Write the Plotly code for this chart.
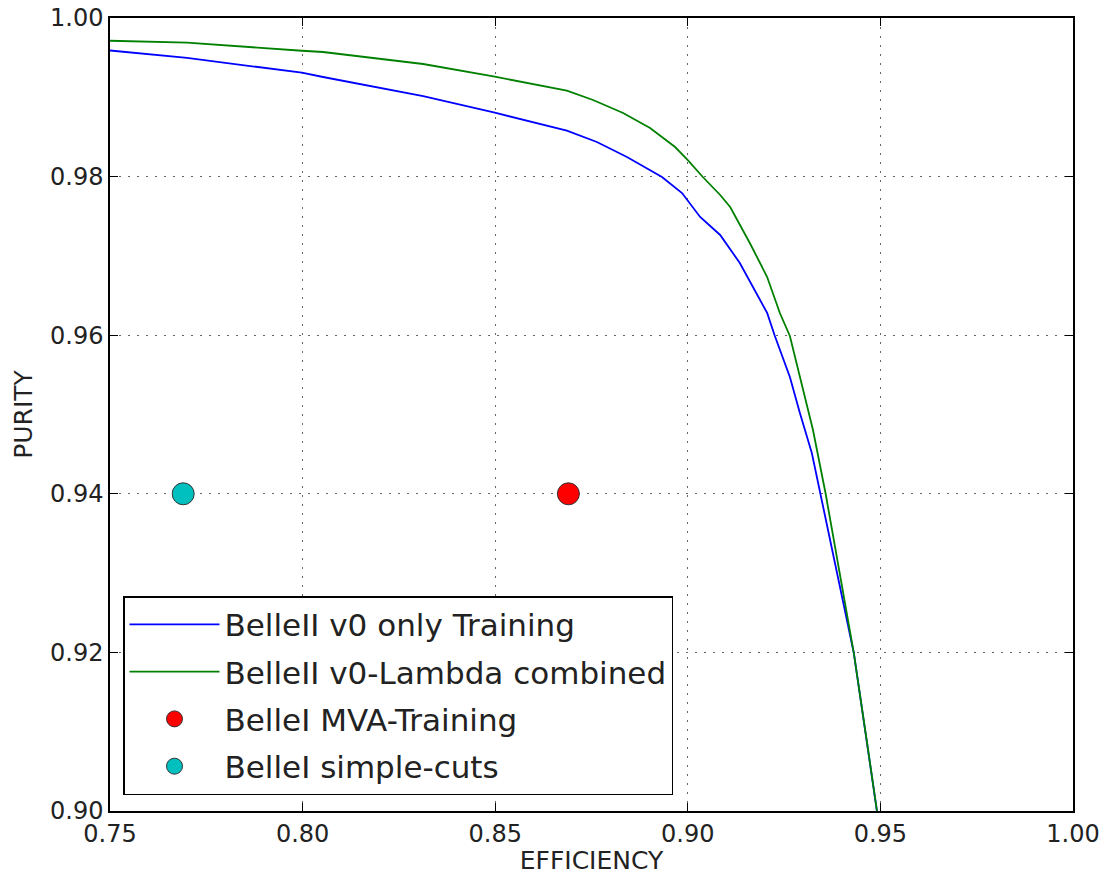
import plotly.graph_objects as go

# BelleII v0 only Training (blue)
blue_eff = [0.750, 0.770, 0.7998, 0.8053, 0.8313, 0.8499, 0.8686, 0.8764, 0.8842, 0.8910,
            0.8933, 0.8985, 0.9032, 0.9084, 0.9135, 0.9206, 0.9226, 0.9265, 0.9291,
            0.9322, 0.9345, 0.9382, 0.9431, 0.9467, 0.9491]
blue_pur = [0.9959, 0.99496, 0.99311, 0.99256, 0.99016, 0.98806, 0.98579, 0.98436, 0.98247, 0.98058,
            0.97995, 0.97793, 0.97491, 0.97264, 0.96911, 0.96281, 0.95990, 0.95473, 0.95019,
            0.94514, 0.93997, 0.93127, 0.91992, 0.90807, 0.9000]

# BelleII v0-Lambda combined (green)
green_eff = [0.750, 0.770, 0.7998, 0.8053, 0.8313, 0.8499, 0.8686, 0.8754, 0.8832, 0.8902,
             0.8967, 0.9000, 0.9039, 0.9084, 0.9110, 0.9161, 0.9206, 0.9239, 0.9265, 0.9299,
             0.9325, 0.9358, 0.9390, 0.9431, 0.9467, 0.9491]
green_pur = [0.99713, 0.99689, 0.99587, 0.99571, 0.99420, 0.99260, 0.99083, 0.98966, 0.98802, 0.98613,
             0.98373, 0.98209, 0.97995, 0.97768, 0.97617, 0.97163, 0.96734, 0.96280, 0.95990, 0.95309,
             0.94804, 0.93997, 0.93127, 0.91992, 0.90807, 0.9000]

# BelleI points
mva_eff = [0.869]
mva_pur = [0.940]
cuts_eff = [0.769]
cuts_pur = [0.940]

x_ticks = [0.75, 0.80, 0.85, 0.90, 0.95, 1.00]
y_ticks = [0.90, 0.92, 0.94, 0.96, 0.98, 1.00]

FONT = "DejaVu Sans"

fig = go.Figure()
fig.add_trace(go.Scatter(x=blue_eff, y=blue_pur, mode="lines",
                         line=dict(color="#0000ff", width=1.8),
                         name="BelleII v0 only Training", legendgroup="a"))
fig.add_trace(go.Scatter(x=green_eff, y=green_pur, mode="lines",
                         line=dict(color="#008000", width=1.8),
                         name="BelleII v0-Lambda combined", legendgroup="b"))
fig.add_trace(go.Scatter(x=mva_eff, y=mva_pur, mode="markers",
                         marker=dict(color="#ff0000", size=22,
                                     line=dict(color="#333333", width=1)),
                         name="BelleI MVA-Training", legendgroup="c"))
fig.add_trace(go.Scatter(x=cuts_eff, y=cuts_pur, mode="markers",
                         marker=dict(color="#00bfbf", size=22,
                                     line=dict(color="#333333", width=1)),
                         name="BelleI simple-cuts", legendgroup="d"))

axis_common = dict(
    showline=True, linecolor="black", linewidth=1.5, mirror="allticks",
    ticks="inside", ticklen=8, tickwidth=1, tickcolor="black",
    showgrid=True, gridcolor="#666666", gridwidth=1, griddash="2px,7px",
    zeroline=False, tickformat=".2f", automargin=False, layer="above traces",
    tickfont=dict(family=FONT, size=24, color="#222222"),
)

fig.update_xaxes(range=[0.75, 1.00], tickvals=x_ticks, **axis_common,
                 title=dict(text="EFFICIENCY", font=dict(family=FONT, size=25, color="#222222"),
                            standoff=6))
fig.update_yaxes(range=[0.90, 1.00], tickvals=y_ticks, **axis_common,
                 title=dict(text="PURITY", font=dict(family=FONT, size=25, color="#222222"),
                            standoff=10))

fig.update_layout(
    width=1101, height=875,
    margin=dict(l=110, r=28, t=18, b=64),
    paper_bgcolor="white", plot_bgcolor="white",
    showlegend=True,
    legend=dict(
        x=0.0135, y=0.02, xanchor="left", yanchor="bottom",
        bgcolor="white", bordercolor="black", borderwidth=1.5,
        font=dict(family=FONT, size=31, color="#222222"),
        itemwidth=90, tracegroupgap=4,
    ),
)

fig.write_html("out.html")
